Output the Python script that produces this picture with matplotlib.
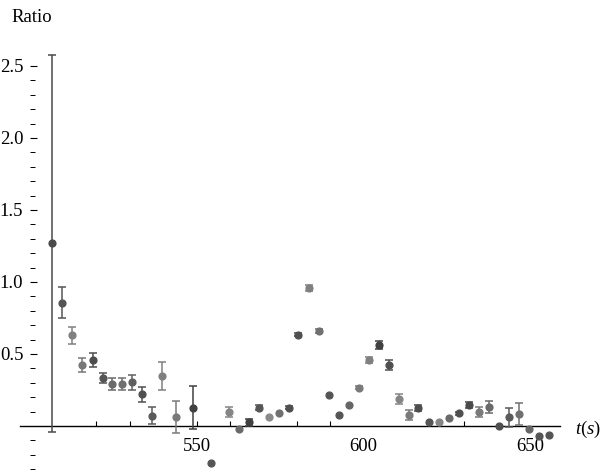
import numpy as np
import matplotlib
matplotlib.use("Agg")
import matplotlib.pyplot as plt
from matplotlib.ticker import FormatStrFormatter

# time (s), ratio and error
t = [506.8, 509.6, 512.8, 515.7, 518.9, 521.9, 524.7, 527.7, 530.7, 533.7,
     536.7, 539.7, 543.8, 548.8, 554.2, 559.8, 562.7, 565.7, 568.7, 571.7,
     574.7, 577.6, 580.5, 583.6, 586.6, 589.7, 592.7, 595.7, 598.7, 601.7,
     604.7, 607.6, 610.6, 613.6, 616.3, 619.6, 622.5, 625.6, 628.6, 631.6,
     634.6, 637.6, 640.6, 643.6, 646.6, 649.5, 652.5, 655.5]
ratio = [1.269, 0.856, 0.630, 0.424, 0.458, 0.333, 0.292, 0.292, 0.303, 0.220,
         0.072, 0.347, 0.060, 0.127, -0.259, 0.099, -0.023, 0.026, 0.127, 0.065,
         0.093, 0.127, 0.635, 0.960, 0.662, 0.218, 0.079, 0.146, 0.266, 0.460,
         0.562, 0.426, 0.185, 0.076, 0.123, 0.028, 0.028, 0.058, 0.088, 0.144,
         0.097, 0.130, 0.000, 0.060, 0.083, -0.023, -0.067, -0.063]
err = [1.31, 0.108, 0.060, 0.049, 0.046, 0.035, 0.043, 0.043, 0.052, 0.052,
       0.057, 0.096, 0.111, 0.148, 0.0, 0.035, 0.0, 0.026, 0.017, 0.0,
       0.0, 0.012, 0.012, 0.022, 0.014, 0.0, 0.0, 0.0, 0.012, 0.020,
       0.028, 0.035, 0.035, 0.035, 0.021, 0.0, 0.0, 0.0, 0.012, 0.021,
       0.035, 0.042, 0.0, 0.065, 0.074, 0.0, 0.0, 0.0]

# gray level of each point
shades = ["#4a4a4a", "#555555", "#808080", "#777777", "#4d4d4d", "#555555",
          "#6a6a6a", "#707070", "#606060", "#505050", "#5a5a5a", "#808080",
          "#7a7a7a", "#404040", "#555555", "#858585", "#6a6a6a", "#404040",
          "#555555", "#8a8a8a", "#707070", "#505050", "#505050", "#808080",
          "#707070", "#555555", "#555555", "#666666", "#7a7a7a", "#808080",
          "#404040", "#505050", "#858585", "#7a7a7a", "#4d4d4d", "#555555",
          "#858585", "#6a6a6a", "#505050", "#4a4a4a", "#7a7a7a", "#6a6a6a",
          "#505050", "#5a5a5a", "#707070", "#666666", "#555555", "#555555"]

x_labels = [550, 600, 650]
x_minor = [520, 530, 550, 560, 580, 590, 630]
y_labels = [0.5, 1.0, 1.5, 2.0, 2.5]

plt.rcParams['font.family'] = 'Liberation Serif'
plt.rcParams['font.size'] = 13.5
plt.rcParams['mathtext.fontset'] = 'custom'
plt.rcParams['mathtext.rm'] = 'Liberation Serif'
plt.rcParams['mathtext.it'] = 'Liberation Serif:italic'

fig = plt.figure(figsize=(6, 4.71), dpi=100)
ax = fig.add_axes([0, 0, 1, 1])
ax.set_xlim(491.1, 670.8)
ax.set_ylim(-0.3125, 2.958)

for ti, vi, ei, c in zip(t, ratio, err, shades):
    ax.errorbar(ti, vi, yerr=ei if ei > 0 else None, fmt='o', ms=4.9,
                color=c, ecolor=c, elinewidth=1.1, capsize=2.6, capthick=1.1,
                zorder=3)

# axes in Mathematica style
ax.spines['top'].set_visible(False)
ax.spines['right'].set_visible(False)
ax.spines['left'].set_position(('data', 500))
ax.spines['left'].set_color('none')
ax.spines['bottom'].set_position(('data', 0))
ax.spines['bottom'].set_bounds(497.1, 658.8)
ax.spines['bottom'].set_linewidth(1.0)

ax.xaxis.remove_overlapping_locs = False
ax.set_xticks(x_labels)
ax.set_xticks(x_minor, minor=True)
ax.tick_params(axis='x', which='major', length=0, pad=8.5)
ax.tick_params(axis='x', which='minor', direction='in', length=3.6, width=0.8)

ax.set_yticks(y_labels)
ax.set_yticks(np.round(np.arange(-0.3, 2.55, 0.1), 1), minor=True)
ax.yaxis.set_major_formatter(FormatStrFormatter('%.1f'))
ax.tick_params(axis='y', which='major', direction='in', length=4.8, width=0.8, pad=4.6)
ax.tick_params(axis='y', which='minor', direction='in', length=3.4, width=0.7)

fig.text(11.7 / 600, 1 - 21.5 / 471, 'Ratio', ha='left', va='baseline')
fig.text(575 / 600, 1 - 434 / 471, r'$t(s)$', ha='left', va='baseline')

fig.savefig('out.png', dpi=100)
